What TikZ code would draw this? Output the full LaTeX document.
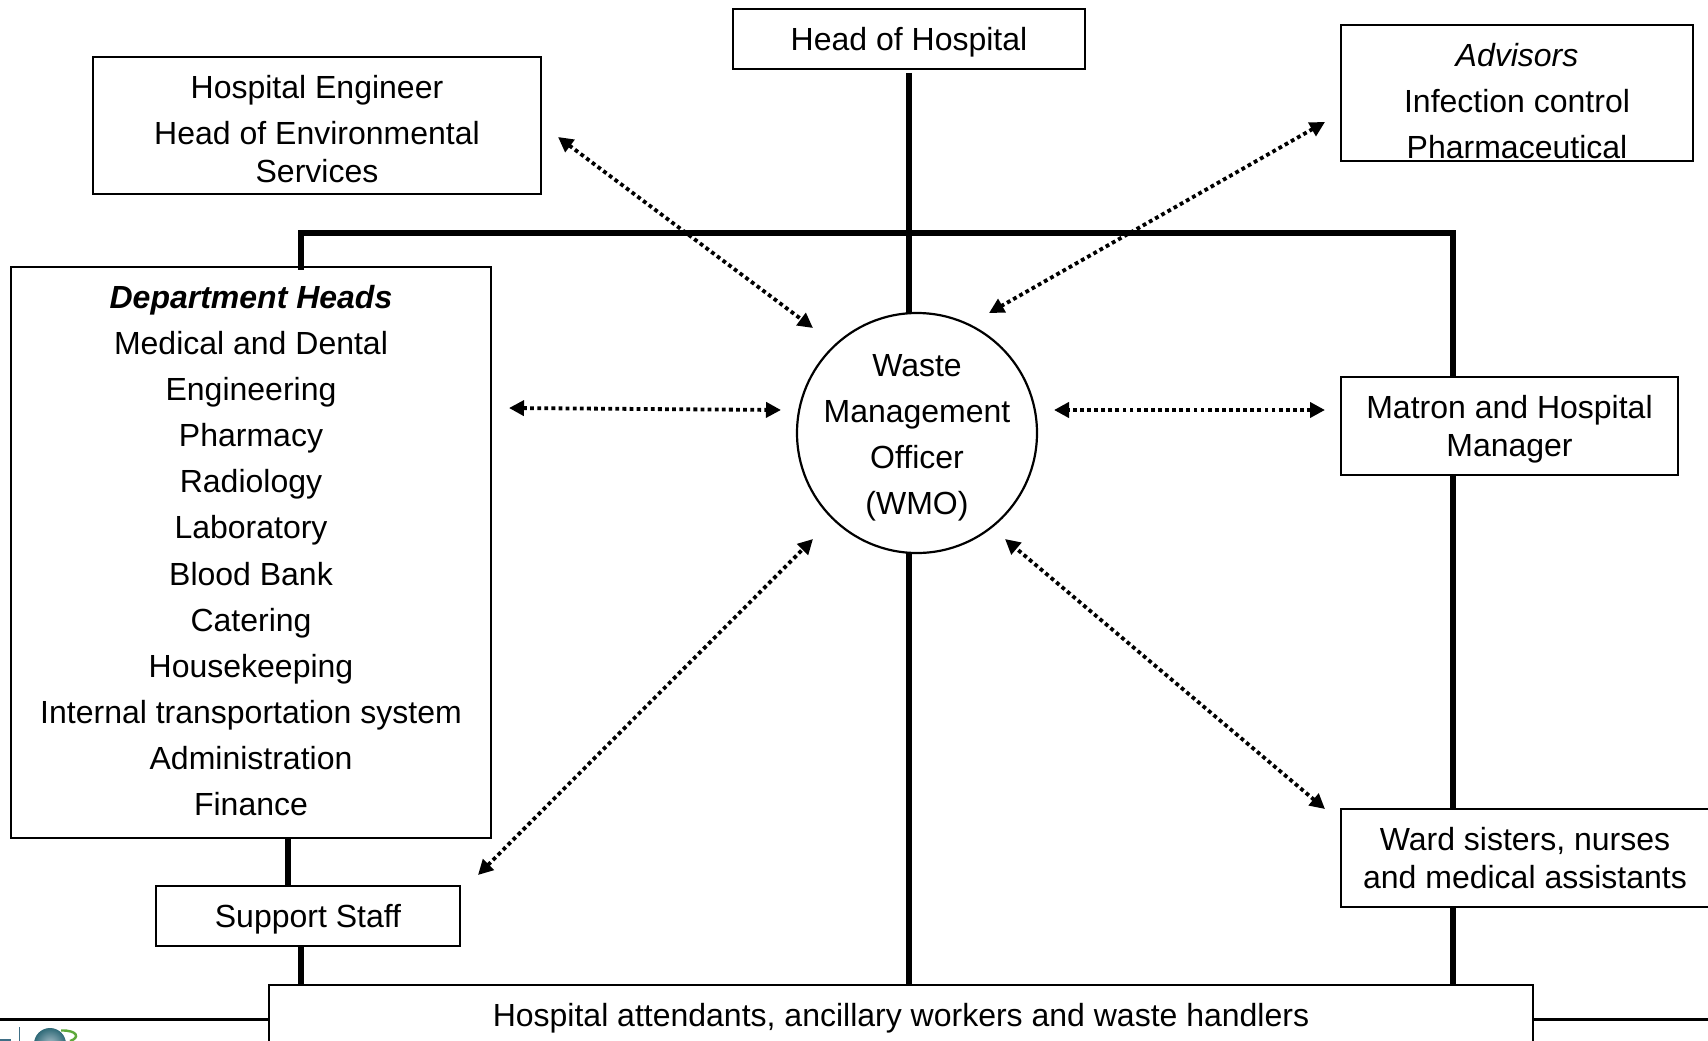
\documentclass[tikz,border=0pt]{standalone}
\usepackage{fontspec}
\setmainfont{Liberation Sans}
\usetikzlibrary{arrows.meta,shapes.geometric}
\newcommand\st{\rule[-7pt]{0pt}{37pt}}
\definecolor{logodark}{HTML}{2F6A78}
\definecolor{logolight}{HTML}{A9BFC9}
\definecolor{logoring}{HTML}{5DA83A}
\definecolor{logobar}{HTML}{3F6F86}
\tikzset{
  x=1pt,y=-1pt,
  box/.style={draw=black,line width=2.2pt,fill=white,inner sep=0pt,outer sep=0pt,align=center,anchor=north west,font=\fontsize{32}{46.05}\selectfont},
  tight/.style={font=\fontsize{32}{38}\selectfont},
  lbl/.style={inner sep=0pt,outer sep=0pt,align=center,font=\fontsize{32}{46.05}\selectfont},
  spine/.style={line width=5.8pt,black},
  link/.style={line width=3.8pt,dash pattern=on 3.8pt off 3.3pt,{Triangle[length=15pt,width=15pt]}-{Triangle[length=15pt,width=15pt]}},
}
\begin{document}
\begin{tikzpicture}
\useasboundingbox (0,0) rectangle (1708,1041);
\clip (0,0) rectangle (1708,1041);
% footer rule and logo
\coordinate (ruleL) at (0,1019.5);
\coordinate (ruleR) at (1708,1019.5);
\draw[line width=3pt] (ruleL) -- (ruleR);
\fill[logobar] (0,1038.5) rectangle (11,1041);
\draw[line width=1pt,logobar] (19.5,1027) -- (19.5,1041);
\draw[logoring,line width=2.4pt] (70,1041) .. controls (80,1038) and (78,1030) .. (61,1030.5);
\shade[inner color=logolight,outer color=logodark] (50,1044) circle (16);
% nodes
\node[box,minimum width=352pt,minimum height=60pt] (head) at (733,9) {\st Head of Hospital};
\node[box,minimum width=448pt,minimum height=137pt] (eng) at (93,57) {};
\node[box,minimum width=352pt,minimum height=136pt] (adv) at (1341,25) {};
\node[box,minimum width=480pt,minimum height=571pt] (dept) at (11,267) {\st\textbf{\textit{Department Heads}}\\Medical and Dental\\Engineering\\Pharmacy\\Radiology\\Laboratory\\Blood Bank\\Catering\\Housekeeping\\Internal transportation system\\Administration\\Finance\rule[-11pt]{0pt}{37pt}};
\node[box,tight,minimum width=337pt,minimum height=98pt] (matron) at (1341,377) {\st Matron and Hospital\\Manager\st};
\node[box,tight,minimum width=368pt,minimum height=98pt] (ward) at (1341,809) {\st Ward sisters, nurses\\and medical assistants\st};
\node[box,minimum width=304pt,minimum height=60pt] (support) at (156,886) {\st Support Staff};
\node[box,minimum width=1264pt,minimum height=60pt] (attend) at (269,985) {\st Hospital attendants, ancillary workers and waste handlers};
\node[circle,draw=black,line width=2.2pt,fill=white,minimum size=240pt,inner sep=0pt,outer sep=0pt] (wmo) at (917,433) {};
\node[lbl] (wmotext) at (917,434) {\st Waste\\Management\\Officer\\(WMO)\st};
\node[lbl,tight] (engtext) at (317,129) {\st Hospital Engineer\\[8pt]Head of Environmental\\Services\st};
\node[lbl] (advtext) at (1517,101) {\st\textit{Advisors}\\Infection control\\Pharmaceutical\st};
% spine coordinates
\coordinate (busL) at (301,233);
\coordinate (busR) at (1453,233);
\coordinate (busM) at (909,233);
\coordinate (headfoot) at (909,73);
% solid connectors
\draw[spine] (headfoot) -- (busM) -- (wmo.north -| busM);
\draw[spine,line cap=rect] (busL) -- (busR);
\draw[spine] (busL) -- ([yshift=-3pt]busL |- dept.north);
\draw[spine] (busR) -- (busR |- matron.north);
\draw[spine] (busR |- matron.south) -- (busR |- ward.north);
\draw[spine] (busR |- ward.south) -- (busR |- attend.north);
\draw[spine] (wmo.south -| busM) -- (busM |- attend.north);
\coordinate (dropA) at (288,838);
\draw[spine] (dropA) -- (dropA |- support.north);
\coordinate (dropB) at (301,946);
\draw[spine] (dropB) -- (dropB |- attend.north);
% dotted connectors
\coordinate (t1) at (558,137); \coordinate (w1) at (813,328);
\coordinate (t2) at (1325,122); \coordinate (w2) at (989,313);
\coordinate (t3) at (509,408); \coordinate (w3) at (781,410);
\coordinate (t4) at (1325,410); \coordinate (w4) at (1054,410);
\coordinate (t5) at (478,875); \coordinate (w5) at (813,539);
\coordinate (t6) at (1325,809); \coordinate (w6) at (1005,539);
\draw[link] (t1) -- (w1);
\draw[link] (t2) -- (w2);
\draw[link] (t3) -- (w3);
\draw[link] (t4) -- (w4);
\draw[link] (t5) -- (w5);
\draw[link] (t6) -- (w6);
\end{tikzpicture}
\end{document}
